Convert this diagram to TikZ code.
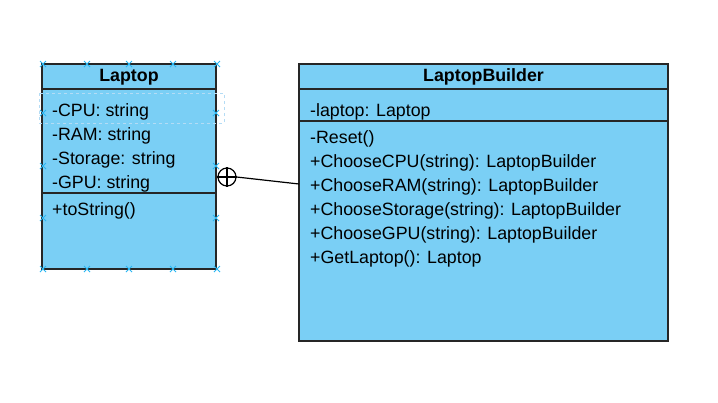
\documentclass[tikz,border=0pt]{standalone}
\usepackage{fontspec}
\setmainfont{Liberation Sans}
\begin{document}
\begin{tikzpicture}[x=1pt,y=-1pt,
  classbox/.style={draw=black!85,line width=1.2pt,fill=boxblue},
  sep/.style={draw=black!85,line width=1.2pt},
  title/.style={font=\fontsize{17.8}{20}\selectfont\bfseries,anchor=center,inner sep=0},
  member/.style={font=\fontsize{17.8}{20}\selectfont,anchor=west,inner sep=0},
  handle/.style={draw=handleblue,line width=1pt},
  selbox/.style={draw=selblue,dashed,line width=0.9pt}]
\definecolor{boxblue}{RGB}{122,207,245}
\definecolor{handleblue}{RGB}{41,182,242}
\definecolor{selblue}{RGB}{180,220,245}
\useasboundingbox (0,0) rectangle (718,402);
% Laptop
\path[classbox] (42,64) rectangle (216,269);
\draw[sep] (42,89) -- (216,89);
\draw[sep] (42,193) -- (216,193);
\node[title] (lt) at (129,77) {Laptop};
\node[member] (l1) at (52,112) {-CPU: string};
\node[member] (l2) at (52,136) {-RAM: string};
\node[member] (l3) at (52,160) {-Storage: string};
\node[member] (l4) at (52,184) {-GPU: string};
\node[member] (l5) at (52,211) {+toString()};
\draw[selbox] (39,93) rectangle (224,123);
% handles
\def\hs{3}
\foreach \x in {43,87,129,173,217} {
  \draw[handle] (\x-\hs,64-\hs) -- (\x+\hs,64+\hs) (\x-\hs,64+\hs) -- (\x+\hs,64-\hs);
  \draw[handle] (\x-\hs,269-\hs) -- (\x+\hs,269+\hs) (\x-\hs,269+\hs) -- (\x+\hs,269-\hs);
}
\foreach \y in {113,166,218} {
  \draw[handle] (43-\hs,\y-\hs) -- (43+\hs,\y+\hs) (43-\hs,\y+\hs) -- (43+\hs,\y-\hs);
  \draw[handle] (216-\hs,\y-\hs) -- (216+\hs,\y+\hs) (216-\hs,\y+\hs) -- (216+\hs,\y-\hs);
}
% LaptopBuilder
\path[classbox] (299,64) rectangle (668,341);
\draw[sep] (299,89) -- (668,89);
\draw[sep] (299,121) -- (668,121);
\node[title] (bt) at (483.5,77) {LaptopBuilder};
\node[member] (b1) at (310,112) {-laptop: Laptop};
\node[member] (b2) at (310,139) {-Reset()};
\node[member] (b3) at (310,163) {+ChooseCPU(string): LaptopBuilder};
\node[member] (b4) at (310,187) {+ChooseRAM(string): LaptopBuilder};
\node[member] (b5) at (310,211) {+ChooseStorage(string): LaptopBuilder};
\node[member] (b6) at (310,235) {+ChooseGPU(string): LaptopBuilder};
\node[member] (b7) at (310,259) {+GetLaptop(): Laptop};
% nesting connector
\node[circle,draw=black,line width=1.2pt,minimum size=18pt,inner sep=0] (nest) at (227,177) {};
\draw[line width=1.2pt] (nest.north) -- (nest.south) (nest.west) -- (nest.east);
\coordinate (bend) at (299,184);
\draw[line width=1.2pt] (nest.east) -- (bend);
\end{tikzpicture}
\end{document}
